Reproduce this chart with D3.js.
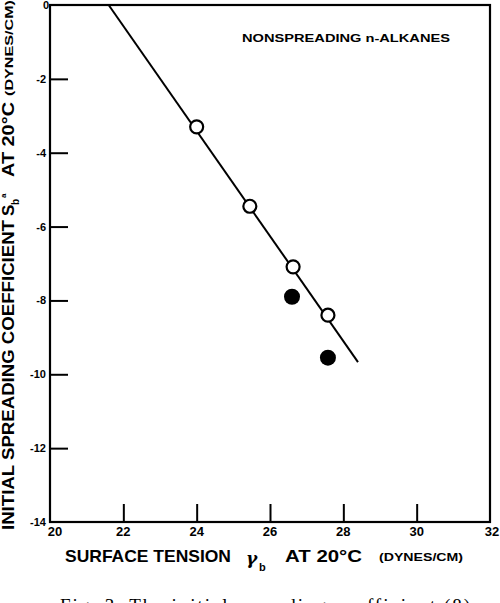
<!DOCTYPE html>
<html>
<head>
<meta charset="utf-8">
<script src="https://cdn.jsdelivr.net/npm/d3@7"></script>
<style>
  body { margin: 0; background: #fff; }
  svg { display: block; }
  text { fill: #000; }
</style>
</head>
<body>
<div id="chart"></div>
<script>
// data
const openX = [24.0, 25.45, 26.63, 27.58];
const openY = [-3.3, -5.45, -7.09, -8.4];
const filledX = [26.6, 27.58];
const filledY = [-7.9, -9.55];
const fitX = [21.6, 28.4];
const fitY = [0, -9.67];
const xTicks = [20, 22, 24, 26, 28, 30, 32];
const yTicks = [0, -2, -4, -6, -8, -10, -12, -14];

const W = 500, H = 603;
const margin = {top: 5, right: 10, bottom: 81, left: 50};
const width = W - margin.left - margin.right,
    height = H - margin.top - margin.bottom;

const svg = d3.select("#chart")
    .append("svg")
    .attr("width", W)
    .attr("height", H);

const g = svg.append("g")
    .attr("transform", `translate(${margin.left}, ${margin.top})`);

const x = d3.scaleLinear().domain([20, 32]).range([0, width]);
const y = d3.scaleLinear().domain([-14, 0]).range([height, 0]);

// frame
g.append("rect")
    .attr("width", width)
    .attr("height", height)
    .attr("fill", "none")
    .attr("stroke", "#000")
    .attr("stroke-width", 2.2);

// x axis: inward ticks, labels below
const xAxis = g.append("g")
    .attr("transform", `translate(0, ${height})`)
    .call(d3.axisTop(x).tickValues(xTicks).tickSize(18).tickFormat(""));
xAxis.select(".domain").remove();
xAxis.selectAll("line").attr("stroke", "#000").attr("stroke-width", 2);
xAxis.selectAll(".tick").filter(d => d === 20 || d === 32).select("line").remove();

g.selectAll(".xlab")
    .data(xTicks)
    .join("text")
    .attr("class", "xlab")
    .attr("x", d => x(d) + (d === 20 ? 5 : d === 32 ? 2 : 0))
    .attr("y", height + 14)
    .attr("text-anchor", "middle")
    .style("font", "bold 13px 'Liberation Sans', Arial, sans-serif")
    .text(d => d);

// y axis: inward ticks, labels left
const yAxis = g.append("g")
    .call(d3.axisRight(y).tickValues(yTicks).tickSize(18).tickFormat(""));
yAxis.select(".domain").remove();
yAxis.selectAll("line").attr("stroke", "#000").attr("stroke-width", 2);
yAxis.selectAll(".tick").filter(d => d === 0 || d === -14).select("line").remove();

g.selectAll(".ylab")
    .data(yTicks)
    .join("text")
    .attr("class", "ylab")
    .attr("x", d => d === 0 ? -1 : -4)
    .attr("y", d => y(d) + 4)
    .attr("text-anchor", "end")
    .style("font", "bold 11px 'Liberation Sans', Arial, sans-serif")
    .text(d => d);

// fitted line
const line = d3.line().x(d => x(d[0])).y(d => y(d[1]));
g.append("path")
    .datum(d3.zip(fitX, fitY))
    .attr("d", line)
    .attr("fill", "none")
    .attr("stroke", "#000")
    .attr("stroke-width", 2);

// open circles
g.selectAll(".open")
    .data(d3.zip(openX, openY))
    .join("circle")
    .attr("class", "open")
    .attr("cx", d => x(d[0]))
    .attr("cy", d => y(d[1]))
    .attr("r", 6.5)
    .attr("fill", "#fff")
    .attr("stroke", "#000")
    .attr("stroke-width", 2.2);

// filled circles
g.selectAll(".filled")
    .data(d3.zip(filledX, filledY))
    .join("circle")
    .attr("class", "filled")
    .attr("cx", d => x(d[0]))
    .attr("cy", d => y(d[1]))
    .attr("r", 8)
    .attr("fill", "#000");

// inset label
svg.append("text")
    .attr("x", 242)
    .attr("y", 42)
    .attr("textLength", 208)
    .attr("lengthAdjust", "spacingAndGlyphs")
    .style("font", "bold 10px 'Liberation Sans', Arial, sans-serif")
    .text("NONSPREADING  n-ALKANES");

// x axis title
const xt = svg.append("g");
xt.append("text")
    .attr("x", 65).attr("y", 562)
    .attr("textLength", 166)
    .attr("lengthAdjust", "spacingAndGlyphs")
    .style("font", "bold 17px 'Liberation Sans', Arial, sans-serif")
    .text("SURFACE TENSION");
xt.append("text")
    .attr("x", 246).attr("y", 564)
    .style("font", "italic bold 17px 'DejaVu Serif', serif")
    .text("γ");
xt.append("text")
    .attr("x", 259).attr("y", 571)
    .style("font", "bold 11px 'Liberation Sans', Arial, sans-serif")
    .text("b");
xt.append("text")
    .attr("x", 285).attr("y", 562)
    .attr("textLength", 77)
    .attr("lengthAdjust", "spacingAndGlyphs")
    .style("font", "bold 17px 'Liberation Sans', Arial, sans-serif")
    .text("AT  20°C");
xt.append("text")
    .attr("x", 379).attr("y", 561)
    .attr("textLength", 84)
    .attr("lengthAdjust", "spacingAndGlyphs")
    .style("font", "bold 11px 'Liberation Sans', Arial, sans-serif")
    .text("(DYNES/CM)");

// y axis title (rotated, reads bottom to top)
const yt = svg.append("g")
    .attr("transform", "translate(14, 530) rotate(-90)");
yt.append("text")
    .attr("x", 0).attr("y", 0)
    .attr("textLength", 310)
    .attr("lengthAdjust", "spacingAndGlyphs")
    .style("font", "bold 17px 'Liberation Sans', Arial, sans-serif")
    .text("INITIAL SPREADING COEFFICIENT");
yt.append("text")
    .attr("x", 314).attr("y", 0)
    .style("font", "bold 17px 'Liberation Sans', Arial, sans-serif")
    .text("S");
yt.append("text")
    .attr("x", 325).attr("y", 5)
    .style("font", "bold 10px 'Liberation Sans', Arial, sans-serif")
    .text("b");
yt.append("text")
    .attr("x", 332).attr("y", -8)
    .style("font", "bold 8px 'Liberation Sans', Arial, sans-serif")
    .text("a");
yt.append("text")
    .attr("x", 353).attr("y", 0)
    .attr("textLength", 75)
    .attr("lengthAdjust", "spacingAndGlyphs")
    .style("font", "bold 17px 'Liberation Sans', Arial, sans-serif")
    .text("AT  20°C");
yt.append("text")
    .attr("x", 434).attr("y", -1)
    .attr("textLength", 96)
    .attr("lengthAdjust", "spacingAndGlyphs")
    .style("font", "bold 11px 'Liberation Sans', Arial, sans-serif")
    .text("(DYNES/CM)");

// caption, cut off by the page edge as in the scan
svg.append("text")
    .attr("x", 60).attr("y", 612)
    .attr("textLength", 410)
    .attr("lengthAdjust", "spacing")
    .style("font", "19px 'Liberation Serif', serif")
    .text("Fig. 3.  The initial spreading coefficient (8)");
</script>
</body>
</html>
